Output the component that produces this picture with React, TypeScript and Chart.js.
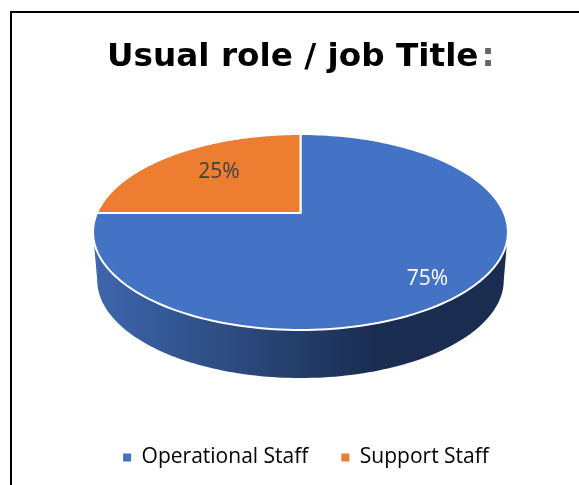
import React, { useEffect, useRef } from "react";
import { Chart, registerables } from "chart.js";

Chart.register(...registerables);

const categories = ["Operational Staff", "Support Staff"];
const shares = [75, 25];
const sliceColors = ["#4472C4", "#ED7D31"];
const labelColors = ["#FFFFFF", "#404040"];
const titleText = "Usual role / job Title";
const titleSuffix = ":";

// Perspective view of the pie disc
const CX = 300.5;
const APEX_Y = 213;
const A = 203.5;
const B = 94.3;
const K = -0.194;
const DEPTH = 48;
const BOTTOM_SCALE = 0.98;
const LABEL_R = [0.82, 0.64];
const LABEL_NUDGE = [[-6, 4], [3, -2]];
const TITLE_LEFT = 107;
const TITLE_SIZE = 32.7;

const project = (theta: number, r = 1) => {
  const u = r * Math.cos(theta);
  const v = r * Math.sin(theta);
  const w = 1 + K * v;
  return { x: CX + (A * u) / w, y: APEX_Y + (B * v) / w };
};

const perspectivePie = {
  id: "perspectivePie",
  afterLayout(chart: any) {
    chart.titleBlock.left = TITLE_LEFT;
  },
  beforeDraw(chart: any) {
    const { ctx } = chart;
    ctx.save();
    ctx.fillStyle = "#000000";
    ctx.fillRect(10, 11, 2, 474);
    ctx.fillRect(10, 11, 569, 2);
    ctx.restore();
  },
  beforeDatasetsDraw(chart: any) {
    const { ctx } = chart;
    const arcs = chart.getDatasetMeta(0).data;
    ctx.save();

    // side wall: only the part of each slice facing the viewer
    const edge = Math.asin(-K);
    arcs.forEach((arc: any) => {
      const start = Math.max(arc.startAngle, edge);
      const end = Math.min(arc.endAngle, Math.PI - edge);
      if (end <= start) return;
      const n = 120;
      const top: { x: number; y: number }[] = [];
      for (let i = 0; i <= n; i++) top.push(project(start + ((end - start) * i) / n));
      const grad = ctx.createLinearGradient(97, 0, 375, 0);
      grad.addColorStop(0, "#3D66AC");
      grad.addColorStop(0.5, "#2C4A7E");
      grad.addColorStop(1, "#1A2D51");
      ctx.beginPath();
      top.forEach((p, i) => (i ? ctx.lineTo(p.x, p.y) : ctx.moveTo(p.x, p.y)));
      [...top].reverse().forEach((p) =>
        ctx.lineTo(CX + (p.x - CX) * BOTTOM_SCALE, p.y + DEPTH)
      );
      ctx.closePath();
      ctx.fillStyle = grad;
      ctx.fill();
    });

    // top faces, in library-computed angles
    arcs.forEach((arc: any, idx: number) => {
      const n = 180;
      const apex = project(0, 0);
      ctx.beginPath();
      ctx.moveTo(apex.x, apex.y);
      for (let i = 0; i <= n; i++) {
        const p = project(arc.startAngle + ((arc.endAngle - arc.startAngle) * i) / n);
        ctx.lineTo(p.x, p.y);
      }
      ctx.closePath();
      ctx.fillStyle = sliceColors[idx];
      ctx.fill();
      ctx.lineWidth = 2;
      ctx.lineJoin = "round";
      ctx.strokeStyle = "#FFFFFF";
      ctx.stroke();
    });

    // value labels
    ctx.font = '21px "Open Sans"';
    ctx.textAlign = "center";
    ctx.textBaseline = "middle";
    arcs.forEach((arc: any, idx: number) => {
      const mid = (arc.startAngle + arc.endAngle) / 2;
      const p = project(mid, LABEL_R[idx]);
      ctx.fillStyle = labelColors[idx];
      ctx.fillText(`${shares[idx]}%`, p.x + LABEL_NUDGE[idx][0], p.y + LABEL_NUDGE[idx][1]);
    });
    ctx.restore();
    return false;
  },
  afterDraw(chart: any) {
    const { ctx } = chart;
    const t = chart.titleBlock;
    if (!t) return;
    ctx.save();
    ctx.font = `bold ${TITLE_SIZE}px "DejaVu Sans"`;
    const w = ctx.measureText(titleText).width;
    ctx.fillStyle = "#666666";
    ctx.textAlign = "left";
    ctx.textBaseline = "middle";
    ctx.fillText(titleSuffix, t.left + w + 3, t.top + t.options.padding.top + 20);
    ctx.restore();
  },
};

export default function App() {
  const ref = useRef<HTMLCanvasElement>(null);
  useEffect(() => {
    const chart = new Chart(ref.current!, {
      type: "pie",
      data: {
        labels: categories,
        datasets: [{ data: shares, backgroundColor: sliceColors, borderColor: "#FFFFFF", borderWidth: 2 }],
      },
      options: {
        animation: false,
        responsive: false,
        devicePixelRatio: 1,
        layout: { padding: { left: 55, right: 22, top: 0, bottom: 7 } },
        plugins: {
          title: {
            display: true,
            text: titleText,
            align: "start",
            color: "#000000",
            font: { family: '"DejaVu Sans"', size: TITLE_SIZE, weight: "bold" },
            padding: { top: 38, bottom: 10 },
          },
          legend: {
            position: "bottom",
            labels: {
              color: "#595959",
              font: { family: '"Open Sans"', size: 21 },
              boxWidth: 8,
              boxHeight: 8,
              padding: 33,
              generateLabels: () =>
                categories.map((text, i) => ({
                  text,
                  fillStyle: sliceColors[i],
                  strokeStyle: sliceColors[i],
                  lineWidth: 0,
                  hidden: false,
                  index: i,
                })),
            },
          },
          tooltip: { enabled: false },
        },
      } as any,
      plugins: [perspectivePie],
    });
    return () => chart.destroy();
  }, []);
  return (
    <div style={{ position: "fixed", left: 0, top: 0, width: 579, height: 485, background: "#fff", overflow: "hidden" }}>
      <canvas ref={ref} width={579} height={485} style={{ display: "block" }} />
    </div>
  );
}
